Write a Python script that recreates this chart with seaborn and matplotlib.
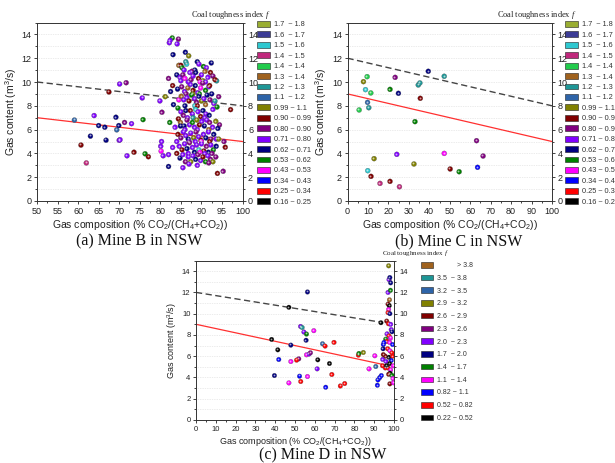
import numpy as np
import pandas as pd
import matplotlib
matplotlib.use("Agg")
import matplotlib.pyplot as plt
import matplotlib.transforms as mtransforms
from matplotlib.patches import Patch
from matplotlib.ticker import MultipleLocator
import seaborn as sns

# ---------------- legend categories ----------------
ab_labels = ["1.7  ~ 1.8", "1.6  ~ 1.7", "1.5  ~ 1.6", "1.4  ~ 1.5", "1.4  ~ 1.4",
             "1.3  ~ 1.4", "1.2  ~ 1.3", "1.1  ~ 1.2", "0.99 ~ 1.1", "0.90 ~ 0.99",
             "0.80 ~ 0.90", "0.71 ~ 0.80", "0.62 ~ 0.71", "0.53 ~ 0.62", "0.43 ~ 0.53",
             "0.34 ~ 0.43", "0.25 ~ 0.34", "0.16 ~ 0.25"]
ab_colors = ["#9aae32", "#3c3c96", "#2ec8d0", "#c0287c", "#22cc4c",
             "#a0621e", "#1e9696", "#2e64a8", "#808000", "#800000",
             "#800080", "#8000ff", "#000080", "#008000", "#ff00ff",
             "#0000ff", "#ff0000", "#000000"]
c_labels = ["          > 3.8", "3.5  ~ 3.8", "3.2  ~ 3.5", "2.9  ~ 3.2", "2.6  ~ 2.9",
            "2.3  ~ 2.6", "2.0  ~ 2.3", "1.7  ~ 2.0", "1.4  ~ 1.7", "1.1  ~ 1.4",
            "0.82 ~ 1.1", "0.52 ~ 0.82", "0.22 ~ 0.52"]
c_colors = ["#a0621e", "#1e9696", "#2e64a8", "#808000", "#800000",
            "#800080", "#8000ff", "#000080", "#008000", "#ff00ff",
            "#0000ff", "#ff0000", "#000000"]

# ---------------- Mine B (panel a) ----------------
a_x = ([59.1, 60.7, 62.0, 63.0, 63.9, 65.0, 66.5, 66.8, 67.5, 69.2, 69.4, 69.9, 70.1, 70.0, 70.2, 71.7,
        71.3, 71.9, 73.0, 73.6, 75.8, 76.3, 77.1, 75.6, 79.9, 80.4, 80.1, 80.2, 80.7, 81.2, 80.3]
       + [97.1, 95.8, 95.3, 93.9, 94.4, 94.2, 93.7, 93.8]
       + [82.9, 82.2, 82.4, 84.4, 84.1, 83.1, 86.1, 86.9]
       + [84.5, 85.0, 85.3, 86.4, 86.2, 89.0, 89.4, 90.5, 91.2, 92.4, 85.8, 88.4, 87.7]
       + [82.0, 84.0, 84.8, 85.5, 85.0, 86.0, 86.8, 87.5, 88.0, 88.6, 89.3, 90.0, 90.4, 90.9, 91.6, 92.2,
          92.8, 93.3, 89.7, 87.2, 91.0]
       + [82.5, 83.0, 84.2, 85.2, 85.9, 86.7, 87.3, 88.0, 88.5, 89.1, 89.8, 90.3, 91.0, 91.8, 92.5, 86.3,
          87.9, 89.5, 92.0]
       + [84.5, 85.1, 85.7, 86.5, 87.0, 87.6, 88.3, 88.8, 89.4, 90.0, 90.6, 91.4, 92.1, 91.0, 88.4, 89.0,
          86.0, 83.2, 93.0, 93.3]
       + [84.3, 85.0, 86.2, 87.3, 87.8, 88.6, 89.2, 89.8, 90.4, 91.1, 91.9, 92.8, 85.6, 86.6, 88.0, 90.8]
       + [82.3, 83.6, 84.4, 84.9, 85.8, 86.5, 87.1, 87.8, 88.3, 88.9, 89.5, 90.1, 90.7, 91.3, 92.0, 92.7,
          93.5, 94.0, 86.0, 89.0, 91.8, 84.9]
       + [84.3, 85.0, 85.6, 86.2, 86.8, 87.4, 88.1, 88.7, 89.3, 89.9, 90.5, 91.1, 91.7, 92.3, 93.0, 93.6,
          94.2, 87.0, 88.5, 90.0, 84.0, 92.0, 95.5]
       + [84.6, 85.3, 85.9, 86.5, 87.1, 87.8, 88.3, 88.8, 89.4, 90.0, 90.6, 91.2, 91.7, 92.3, 92.9, 93.6,
          89.6, 86.8, 90.8, 83.0, 84.0, 92.6]
       + [82.0, 84.8, 85.5, 86.1, 86.8, 87.4, 88.0, 88.6, 89.2, 89.8, 90.4, 91.0, 91.6, 92.2, 92.8, 93.5,
          87.0, 89.0]
       + [82.0, 85.5, 91.8])
a_y = ([6.8, 4.7, 3.2, 5.45, 7.18, 6.34, 6.2, 5.11, 9.16, 7.04, 5.98, 6.34, 9.83, 5.1, 5.15, 9.94,
        6.6, 3.8, 6.5, 4.1, 6.84, 3.97, 3.72, 8.66, 8.41, 7.46, 4.6, 4.19, 3.8, 8.77, 5.0]
       + [7.68, 4.52, 2.5, 2.32, 6.4, 8.77, 10.1, 7.9]
       + [13.7, 13.3, 13.5, 13.6, 13.2, 12.3, 12.5, 12.2]
       + [11.4, 11.4, 11.2, 11.5, 11.7, 11.7, 11.5, 11.3, 11.2, 11.6, 11.0, 11.0, 10.9]
       + [10.3, 10.6, 10.4, 10.6, 10.1, 10.3, 10.0, 10.2, 10.5, 10.8, 10.3, 10.6, 10.1, 10.9, 10.4, 10.8,
          10.5, 10.2, 10.0, 10.8, 10.0]
       + [9.2, 9.7, 9.4, 9.6, 9.2, 9.5, 9.8, 9.3, 9.7, 9.1, 9.5, 9.9, 9.3, 9.6, 9.0, 9.0,
          9.0, 9.0, 9.7]
       + [8.5, 8.8, 8.5, 8.7, 8.4, 8.9, 8.6, 8.3, 8.8, 8.4, 8.6, 8.9, 8.5, 8.1, 8.0, 8.0,
          8.0, 8.1, 8.2, 8.4]
       + [7.8, 7.5, 7.6, 7.6, 7.3, 7.7, 7.5, 7.1, 7.6, 7.3, 7.2, 7.7, 7.2, 7.0, 7.0, 7.0]
       + [6.6, 6.2, 6.9, 6.6, 6.3, 6.8, 6.4, 6.6, 6.2, 6.8, 6.4, 6.7, 6.3, 6.8, 6.6, 6.2,
          6.7, 6.1, 6.0, 6.0, 6.0, 6.3]
       + [5.6, 5.3, 5.8, 5.5, 5.2, 5.7, 5.3, 5.8, 5.4, 5.1, 5.6, 5.3, 5.8, 5.2, 5.6, 5.2,
          5.2, 5.0, 5.0, 5.0, 5.0, 5.0, 5.0]
       + [4.6, 4.3, 4.8, 4.4, 4.9, 4.5, 4.1, 4.7, 4.3, 4.8, 4.2, 4.6, 4.1, 4.7, 4.3, 4.6,
          4.1, 4.0, 4.0, 4.5, 4.0, 4.0]
       + [3.9, 3.6, 3.9, 3.3, 3.7, 3.3, 3.8, 3.5, 3.9, 3.4, 3.7, 3.3, 3.8, 3.5, 3.3, 3.7,
          3.1, 3.0]
       + [2.9, 2.8, 3.2])
a_f = ([7, 9, 3, 12, 11, 12, 12, 12, 9, 12, 7, 12, 11, 11, 11, 10,
        10, 11, 11, 9, 13, 13, 9, 11, 11, 10, 11, 14, 11, 8, 11]
       + [9, 9, 10, 9, 10, 10, 6, 13]
       + [13, 11, 11, 10, 11, 12, 12, 8]
       + [5, 9, 13, 2, 6, 12, 11, 13, 11, 12, 11, 12, 10]
       + [10, 12, 11, 10, 11, 14, 11, 10, 11, 12, 9, 11, 8, 5, 11, 9,
          10, 9, 14, 11, 11]
       + [12, 9, 12, 10, 11, 5, 11, 9, 12, 11, 14, 10, 13, 11, 12, 10,
          8, 13, 9]
       + [14, 5, 11, 11, 9, 13, 11, 10, 12, 8, 11, 12, 10, 5, 2, 9,
          12, 12, 11, 6]
       + [13, 11, 12, 9, 11, 2, 11, 9, 12, 11, 12, 11, 10, 11, 6, 11]
       + [13, 11, 9, 5, 12, 10, 11, 13, 11, 8, 9, 11, 12, 11, 10, 11,
          8, 12, 11, 11, 5, 12]
       + [9, 10, 11, 11, 12, 11, 8, 10, 11, 9, 11, 12, 11, 10, 12, 11,
          8, 11, 11, 14, 11, 9, 10]
       + [11, 9, 11, 12, 10, 11, 12, 11, 2, 11, 9, 10, 12, 11, 13, 12,
          14, 11, 11, 11, 9, 10]
       + [11, 12, 11, 10, 11, 8, 11, 12, 10, 11, 9, 13, 11, 10, 8, 10,
          11, 11]
       + [12, 11, 10])
a_dash_x, a_dash_y = [50, 100], [10, 8]
a_red_x, a_red_y = [50, 100], [7, 5]

# ---------------- Mine C (panel b) ----------------
b_x = [5.7, 9.6, 7.8, 8.8, 11.4, 9.8, 10.4, 23.3, 20.8, 24.9, 39.5, 47.3, 34.6, 35.4, 35.6,
       33.0, 63.1, 66.3, 63.6, 47.3, 50.2, 54.6, 32.5, 24.1, 13.0, 9.9, 11.5, 15.9, 20.8, 25.4]
b_y = [7.65, 10.45, 10.03, 9.36, 9.08, 8.29, 7.84, 10.39, 9.38, 9.05, 10.9, 10.48, 9.75, 9.92, 8.63,
       6.67, 5.07, 3.78, 2.83, 4.0, 2.69, 2.46, 3.11, 3.92, 3.56, 2.55, 2.07, 1.48, 1.65, 1.2]
b_f = [4, 4, 8, 2, 4, 7, 6, 10, 13, 12, 12, 6, 6, 6, 9,
       13, 10, 10, 15, 14, 9, 13, 8, 11, 8, 2, 9, 3, 9, 3]
b_dash_x, b_dash_y = [0, 100], [12, 8]
b_red_x, b_red_y = [0, 100], [9, 5]

# ---------------- Mine D (panel c) ----------------
c_x = ([56.3, 46.9, 93.4, 38.2, 47.9, 41.3, 41.8, 39.6, 47.9, 46.9, 51.9, 50.8, 52.3, 52.9, 52.8,
        53.6, 54.5, 55.8, 55.6, 59.5, 55.8, 57.1, 57.8, 56.3, 61.5, 61.2, 63.9, 65.2, 65.5, 67.4,
        69.7, 68.6, 72.9, 75.1, 82.0, 82.3, 84.5, 87.4, 90.3, 90.8, 91.6, 91.9, 92.8, 93.6]
       + [97.3, 97.5, 97.9, 98.3, 97.0, 98.2, 97.7, 97.0, 97.6, 97.3, 97.0, 97.9, 96.3, 97.2, 98.3,
          98.6, 99.0, 96.5, 97.5, 98.2, 95.8, 96.4, 97.8, 99.3, 94.6, 95.0, 94.5, 96.8, 98.0, 99.0,
          94.6, 95.6, 97.5, 99.3, 94.3, 96.0, 98.6, 97.8, 99.6, 94.2, 95.6, 97.0, 98.3, 98.0, 97.3,
          99.0, 99.5, 97.9, 99.7, 96.2])
c_y = ([12.04, 10.6, 9.15, 7.58, 7.04, 6.6, 5.69, 4.18, 5.5, 3.49, 5.75, 5.63, 4.12, 3.62, 8.8,
        8.7, 8.27, 8.08, 7.5, 8.4, 6.13, 6.2, 6.32, 4.09, 5.66, 4.81, 7.17, 6.95, 3.08, 5.31,
        7.3, 4.28, 3.2, 3.43, 6.1, 6.26, 6.35, 4.81, 6.04, 5.03, 3.27, 3.77, 3.99, 4.18]
       + [14.5, 13.2, 13.4, 12.9, 12.0, 12.2, 11.3, 10.9, 10.75, 10.4, 10.1, 10.0, 9.3, 9.05, 9.0,
          8.5, 8.3, 8.1, 7.9, 7.7, 7.6, 7.4, 7.3, 7.1, 7.1, 7.3, 6.7, 6.7, 6.5, 6.3,
          6.15, 6.0, 5.9, 6.0, 5.7, 5.5, 5.6, 5.3, 5.1, 5.1, 4.9, 4.9, 4.7, 4.4, 4.3,
          4.2, 3.9, 3.4, 3.5, 5.1])
c_f = ([7, 12, 12, 12, 7, 12, 10, 7, 9, 9, 5, 11, 10, 11, 6,
        1, 6, 8, 7, 9, 9, 6, 5, 9, 12, 6, 2, 11, 10, 12,
        11, 11, 11, 11, 11, 8, 3, 9, 9, 2, 10, 10, 10, 10]
       + [3, 6, 7, 7, 6, 8, 0, 4, 12, 9, 11, 7, 4, 11, 6,
          6, 7, 6, 11, 9, 8, 11, 9, 10, 10, 10, 7, 11, 9, 11,
          4, 4, 12, 11, 6, 6, 10, 12, 9, 11, 11, 11, 9, 12, 4,
          8, 9, 4, 9, 12])
c_dash_x, c_dash_y = [0, 94], [12, 9.18]
c_red_x, c_red_y = [0, 97], [9, 5.12]

# ---------------- styling ----------------
sns.set_theme(style="ticks")
plt.rcParams['font.family'] = ['Liberation Sans', 'DejaVu Sans']
plt.rcParams['mathtext.fontset'] = 'custom'
plt.rcParams['mathtext.rm'] = 'Liberation Sans'
plt.rcParams['mathtext.it'] = 'Liberation Serif:italic'
plt.rcParams['mathtext.default'] = 'regular'

W, H = 615, 463
fig = plt.figure(figsize=(W / 100, H / 100), dpi=100)
fig.patch.set_facecolor('white')


def px_axes(l, t, r, b):
    return fig.add_axes([l / W, 1 - b / H, (r - l) / W, (b - t) / H])


def panel(ax, xs, ys, fs, labels, colors, xlim, xmajor, xminor, dash, red,
          fs_tick, fs_label, ms):
    df = pd.DataFrame({'x': xs, 'y': ys, 'f': [labels[i] for i in fs]})
    pal = dict(zip(labels, colors))
    sns.lineplot(x=dash[0], y=dash[1], ax=ax, color='#454545', lw=1.0,
                 linestyle=(0, (4.5, 2.5)), zorder=2)
    sns.lineplot(x=red[0], y=red[1], ax=ax, color='#ff3030', lw=0.9, zorder=2)
    sns.scatterplot(data=df, x='x', y='y', hue='f', palette=pal, hue_order=labels,
                    s=ms, edgecolor='#505050', linewidth=0.2, legend=False, ax=ax,
                    zorder=3)
    tr = mtransforms.offset_copy(ax.transData, fig=fig, x=-0.5, y=0.5, units='points')
    ax.scatter(df['x'], df['y'], s=ms * 0.15, color='white', alpha=0.65,
               linewidths=0, transform=tr, zorder=4)
    ax.set_xlim(*xlim)
    ax.set_ylim(0, 15)
    ax.xaxis.set_major_locator(MultipleLocator(xmajor))
    ax.xaxis.set_minor_locator(MultipleLocator(xminor))
    ax.yaxis.set_major_locator(MultipleLocator(2))
    ax.yaxis.set_minor_locator(MultipleLocator(1))
    ax.tick_params(which='both', direction='out', right=True, labelright=True,
                   top=False, labelsize=fs_tick, width=0.6, pad=1.5, colors='#222222')
    ax.tick_params(which='major', length=2.5)
    ax.tick_params(which='minor', length=1.5)
    ax.grid(axis='y', which='both', color='#d8d8d8', lw=0.5, ls=(0, (1, 1.5)))
    for sp in ax.spines.values():
        sp.set_linewidth(0.7)
        sp.set_color('#333333')
    ax.set_xlabel('Gas composition (% CO$_2$/(CH$_4$+CO$_2$))', fontsize=fs_label,
                  labelpad=2, color='#222222')
    ax.set_ylabel('Gas content (m$^3$/s)', fontsize=fs_label, labelpad=2, color='#222222')


def legend(ax, labels, colors, left_px, top_px, fsz, spacing, title_right_px, title_y_px, title_fs):
    handles = [Patch(facecolor=c, edgecolor='#202020', linewidth=0.4) for c in colors]
    leg = ax.legend(handles, labels, loc='upper left',
                    bbox_to_anchor=(left_px / W, 1 - top_px / H),
                    bbox_transform=fig.transFigure, frameon=False, fontsize=fsz,
                    handlelength=1.75, handleheight=0.85, handletextpad=0.55,
                    labelspacing=spacing, borderpad=0, borderaxespad=0)
    for t in leg.get_texts():
        t.set_color('#333333')
    fig.text(title_right_px / W, 1 - title_y_px / H, 'Coal toughness index $\\it{f}$',
             ha='right', va='center', fontsize=title_fs, family='Liberation Serif',
             color='#222222')


ax_a = px_axes(37, 22.5, 242.5, 201)
panel(ax_a, a_x, a_y, a_f, ab_labels, ab_colors, (50, 100), 5, 2.5,
      (a_dash_x, a_dash_y), (a_red_x, a_red_y), 6.5, 7.5, 13)
legend(ax_a, ab_labels, ab_colors, 257, 21, 5.3, 0.4, 271, 15, 6)

ax_b = px_axes(347.5, 22.5, 552, 201)
panel(ax_b, b_x, b_y, b_f, ab_labels, ab_colors, (0, 100), 10, 5,
      (b_dash_x, b_dash_y), (b_red_x, b_red_y), 6.5, 7.5, 13)
legend(ax_b, ab_labels, ab_colors, 565, 21, 5.3, 0.4, 577, 15, 6)

ax_c = px_axes(196, 260.5, 394, 420)
panel(ax_c, c_x, c_y, c_f, c_labels, c_colors, (0, 100), 10, 5,
      (c_dash_x, c_dash_y), (c_red_x, c_red_y), 5.5, 6.5, 11)
legend(ax_c, c_labels, c_colors, 421, 262, 5.0, 0.8, 449, 253.5, 5.0)

fig.text(139 / W, 1 - 241 / H, '(a) Mine B in NSW', ha='center', va='center',
         fontsize=11.5, family='Liberation Serif', color='#111111')
fig.text(459 / W, 1 - 241 / H, '(b) Mine C in NSW', ha='center', va='center',
         fontsize=11.5, family='Liberation Serif', color='#111111')
fig.text(323 / W, 1 - 455 / H, '(c) Mine D in NSW', ha='center', va='center',
         fontsize=11.5, family='Liberation Serif', color='#111111')

fig.savefig('out.png', dpi=100, facecolor='white')
